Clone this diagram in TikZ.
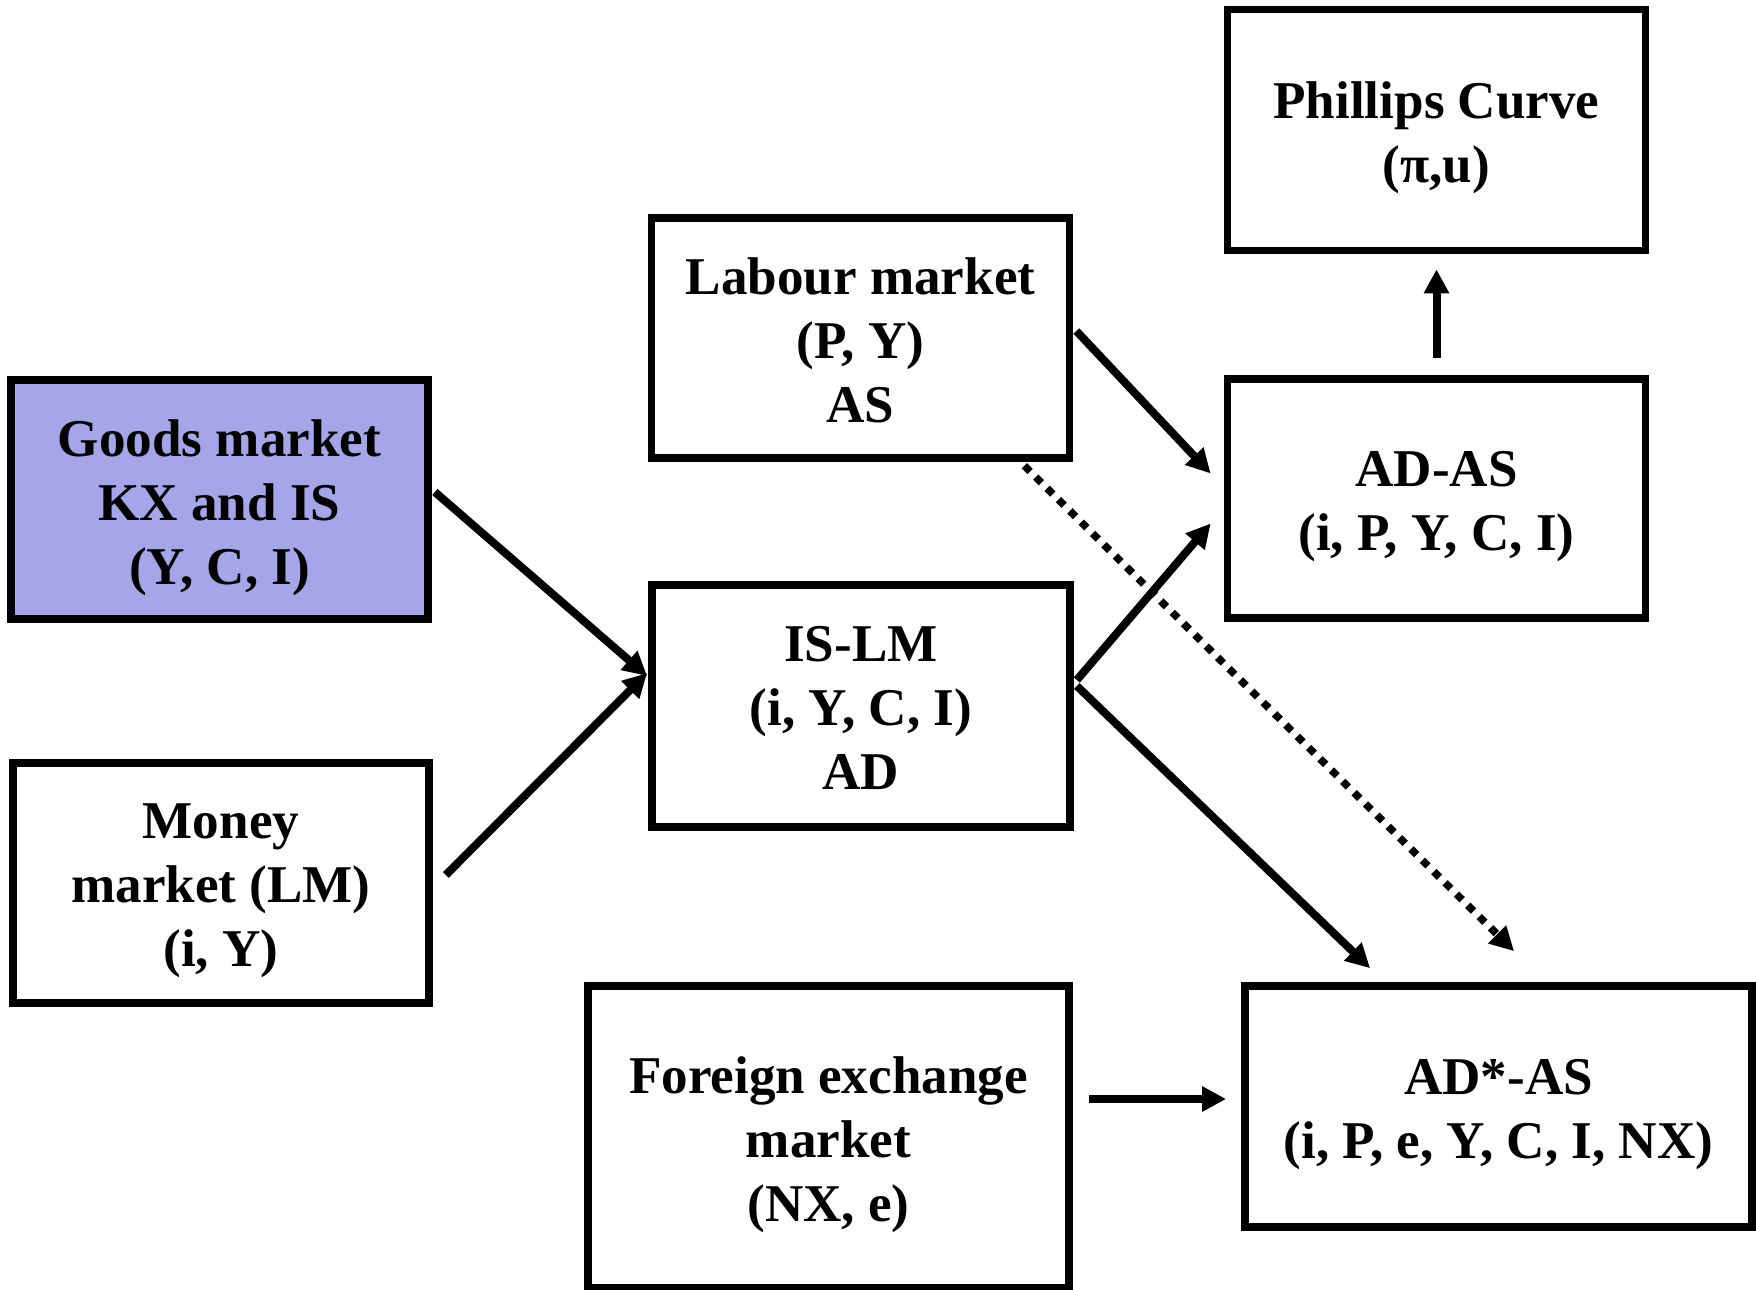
\documentclass[tikz,border=0pt]{standalone}
\usepackage{fontspec}
\setmainfont{Liberation Serif}
\usetikzlibrary{arrows.meta,calc}

\definecolor{goodsfill}{RGB}{164,166,232}

\tikzset{
  market/.style={draw=black, line width=0.075cm, fill=white, inner sep=0pt},
  stdbox/.style={market, minimum width=4.18cm, minimum height=2.41cm},
  boxtext/.style={align=center, inner sep=0pt, yshift=-0.078cm,
    font=\fontsize{15.1}{18.2}\selectfont\bfseries},
  link/.style={line width=0.08cm, -{Triangle[length=0.24cm, width=0.24cm]}},
  dotlink/.style={link, line width=0.075cm, dash pattern=on 0.08cm off 0.08cm}
}

\begin{document}
\begin{tikzpicture}[x=0.01cm, y=-0.01cm]
\useasboundingbox (0,0) rectangle (1756,1290);

% market boxes, each with its text set at the centre
\node[stdbox, label={[boxtext]center:{Phillips Curve\\(π,u)}}] (phil) at (1436.5,130) {};
\node[stdbox, minimum height=2.39cm, label={[boxtext]center:{AD-AS\\(i, P, Y, C, I)}}] (adas) at (1436.5,498.5) {};
\node[stdbox, minimum height=2.40cm, label={[boxtext, yshift=0.058cm]center:{Labour market\\(P, Y)\\AS}}] (labour) at (860.5,338) {};
\node[stdbox, minimum height=2.42cm, label={[boxtext, yshift=0.058cm]center:{IS-LM\\(i, Y, C, I)\\AD}}] (islm) at (861,706) {};
\node[stdbox, minimum width=4.17cm, minimum height=2.39cm, fill=goodsfill,
      label={[boxtext]center:{Goods market\\KX and IS\\(Y, C, I)}}] (goods) at (219.5,499.5) {};
\node[stdbox, minimum width=4.16cm, minimum height=2.40cm,
      label={[boxtext]center:{Money\\market (LM)\\(i, Y)}}] (money) at (221,883) {};
\node[market, minimum width=4.81cm, minimum height=3.02cm,
      label={[boxtext]center:{Foreign exchange\\market\\(NX, e)}}] (forex) at (828.5,1137) {};
\node[market, minimum width=5.07cm, minimum height=2.41cm,
      label={[boxtext]center:{AD*-AS\\(i, P, e, Y, C, I, NX)}}] (adstar) at (1498.5,1106.5) {};

% connectors
\draw[link] ($(goods.east)+(3,-7.5)$) -- ($(islm.west)+(-1,-30)$);
\draw[link] ($(money.east)+(13,-8)$) -- ($(islm.west)+(-1,-33)$);
\draw[link] ($(labour.east)+(3,-7)$) -- ($(adas.west)+(-13,-25)$);
\draw[link] ($(islm.east)+(3,-26)$) -- ($(adas.west)+(-13,25)$);
\draw[link] ($(islm.east)+(3,-20)$) -- ($(adstar.north west)+(129,-14)$);
\draw[dotlink] ($(labour.south east)+(-49,4)$) -- ($(adstar.north west)+(273,-31)$);
\draw[link] ($(adas.north)+(0,-17)$) -- ($(phil.south)+(0,15)$);
\draw[link] ($(forex.east)+(16,-38)$) -- ($(adstar.west)+(-15,-7.5)$);
\end{tikzpicture}
\end{document}
